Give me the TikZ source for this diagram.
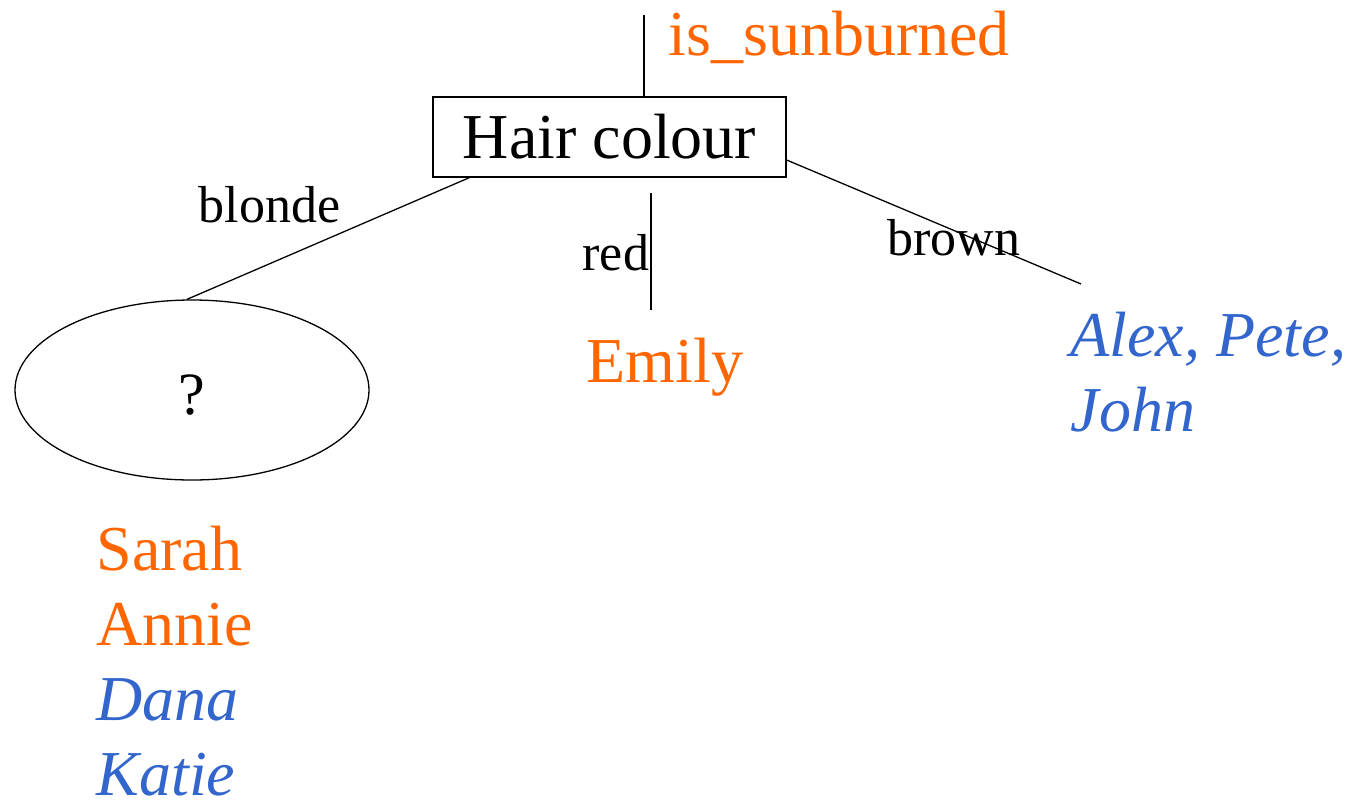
\documentclass[tikz,border=0pt]{standalone}
\usepackage{fontspec}
\setmainfont{Liberation Serif}
\usepackage{tikz}
\usepackage{xcolor}
\usetikzlibrary{shapes.geometric}
\definecolor{sunorange}{HTML}{FF6600}
\definecolor{nameblue}{HTML}{3366CC}

\begin{document}
\begin{tikzpicture}[x=1pt, y=-1pt, line width=1.3pt,
  big/.style={font=\fontsize{64}{75}\selectfont, inner sep=0pt},
  edgelabel/.style={font=\fontsize{52}{60}\selectfont, inner sep=0pt, anchor=base west}]
\useasboundingbox (0,0) rectangle (1352,804);

% attribute test at the root
\node[draw, big, minimum width=353pt, minimum height=80pt] (hair) at (609.5,137) {\raisebox{-2pt}{Hair colour}};
\node[big, anchor=base west, text=sunorange] (target) at (668,55) {is\_sunburned};
\coordinate (root) at (644,15);
\draw (root) -- (root |- hair.north);

% blonde branch
\node[draw, ellipse, minimum width=354pt, minimum height=180pt, inner sep=0pt] (query) at (192,390) {};
\node[font=\fontsize{60}{64}\selectfont, inner sep=0pt] (qmark) at (192,395) {?};
\draw ([xshift=37pt]hair.south west) -- ([xshift=-5pt]query.north);
\node[edgelabel] (blonde) at (198,222) {blonde};
\node[big, anchor=north west, align=left] (blondes) at (96,525)
  {\textcolor{sunorange}{Sarah}\\ \textcolor{sunorange}{Annie}\\ \textcolor{nameblue}{\itshape Dana}\\ \textcolor{nameblue}{\itshape Katie}};

% red branch
\coordinate (redtop) at (651,193);
\coordinate (redend) at (651,310);
\draw (redtop) -- (redend);
\node[edgelabel] (red) at (582,270) {red};
\node[big, anchor=base west, text=sunorange] (emily) at (586,382) {Emily};

% brown branch
\coordinate (brownend) at (1081,284);
\draw ([yshift=-23pt]hair.east) -- (brownend);
\node[edgelabel] (brown) at (887,255) {brown};
\node[big, anchor=north west, align=left, text=nameblue, font=\fontsize{64}{75}\selectfont\itshape] (browns) at (1070,311)
  {Alex, Pete,\\ John};
\end{tikzpicture}
\end{document}
